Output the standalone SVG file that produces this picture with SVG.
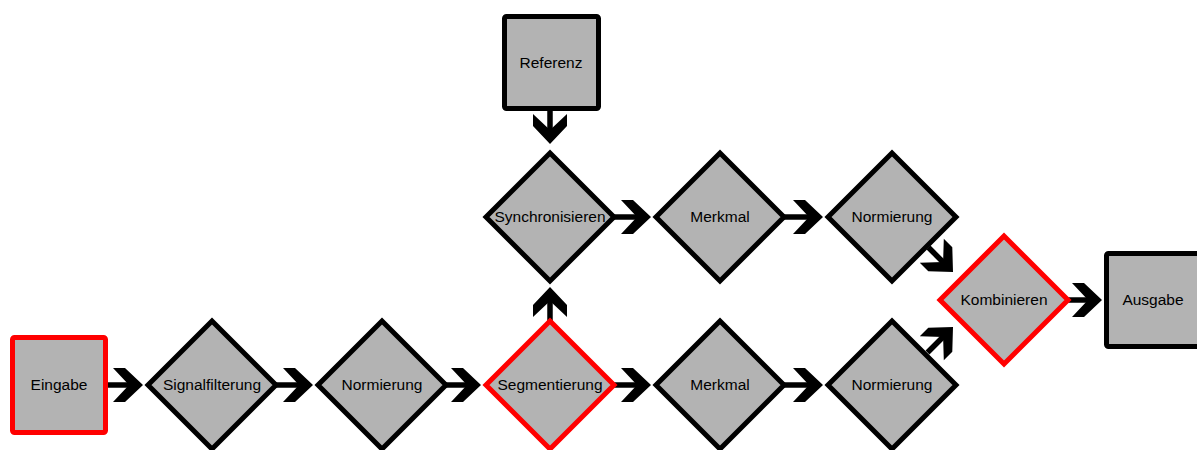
<svg xmlns="http://www.w3.org/2000/svg" xmlns:xlink="http://www.w3.org/1999/xlink" width="1197" height="450" viewBox="0 0 1197 450">
  <style>
    .box { fill: #b3b3b3; stroke: #000; stroke-width: 5; stroke-linejoin: round; }
    .dia { fill: #b3b3b3; stroke: #000; stroke-width: 5; stroke-linejoin: miter; }
    .hot { stroke: #ff0000; }
    .lbl { font-family: "Liberation Sans", Arial, sans-serif; font-size: 15.5px; fill: #000; text-anchor: middle; }
    .wire { stroke: #000; stroke-width: 5.5; fill: none; }
    .head { fill: #000; }
  </style>
  <defs>
    <!-- chevron arrowhead, tip at origin, pointing +x -->
    <path id="chev" d="M0,0 L-18,-17 L-30,-17 L-14,0 L-30,17 L-18,17 Z"/>
  </defs>

  <rect width="1197" height="450" fill="#fff"/>

  <!-- connectors -->
  <g id="connectors">
    <!-- lower chain -->
    <line class="wire" x1="106" y1="385" x2="131" y2="385"/>
    <use xlink:href="#chev" class="head" transform="translate(143,385)"/>
    <line class="wire" x1="276" y1="385" x2="301" y2="385"/>
    <use xlink:href="#chev" class="head" transform="translate(313,385)"/>
    <line class="wire" x1="446" y1="385" x2="469" y2="385"/>
    <use xlink:href="#chev" class="head" transform="translate(481,385)"/>
    <line class="wire" x1="614" y1="385" x2="639" y2="385"/>
    <use xlink:href="#chev" class="head" transform="translate(651,385)"/>
    <line class="wire" x1="784" y1="385" x2="811" y2="385"/>
    <use xlink:href="#chev" class="head" transform="translate(823,385)"/>

    <!-- upper chain -->
    <line class="wire" x1="614" y1="217" x2="639" y2="217"/>
    <use xlink:href="#chev" class="head" transform="translate(651,217)"/>
    <line class="wire" x1="784" y1="217" x2="811" y2="217"/>
    <use xlink:href="#chev" class="head" transform="translate(823,217)"/>

    <!-- Segmentierung up to Synchronisieren -->
    <line class="wire" x1="550" y1="321" x2="550" y2="299"/>
    <use xlink:href="#chev" class="head" transform="translate(550,287) rotate(-90)"/>

    <!-- Referenz down to Synchronisieren -->
    <line class="wire" x1="550" y1="108" x2="550" y2="132"/>
    <use xlink:href="#chev" class="head" transform="translate(550,144) rotate(90)"/>

    <!-- both branches into Kombinieren -->
    <line class="wire" x1="928.5" y1="247.5" x2="944.5" y2="263.5"/>
    <use xlink:href="#chev" class="head" transform="translate(953,272) rotate(45)"/>
    <line class="wire" x1="927.5" y1="352.5" x2="944.5" y2="335.5"/>
    <use xlink:href="#chev" class="head" transform="translate(953,327) rotate(-45)"/>

    <!-- Kombinieren to Ausgabe -->
    <line class="wire" x1="1068" y1="300" x2="1090" y2="300"/>
    <use xlink:href="#chev" class="head" transform="translate(1102,300)"/>
  </g>

  <!-- nodes -->
  <g id="eingabe">
    <rect class="box hot" x="12.5" y="337.5" width="93" height="95" rx="2"/>
    <text class="lbl" x="59" y="390">Eingabe</text>
  </g>

  <g id="referenz">
    <rect class="box" x="504.5" y="16.5" width="94" height="92" rx="2"/>
    <text class="lbl" x="551" y="68">Referenz</text>
  </g>

  <g id="ausgabe">
    <rect class="box" x="1106.5" y="253.5" width="94" height="93" rx="2"/>
    <text class="lbl" x="1153" y="305">Ausgabe</text>
  </g>

  <g id="signalfilterung">
    <path class="dia" d="M212,321 L276,385 L212,449 L148,385 Z"/>
    <text class="lbl" x="212" y="390">Signalfilterung</text>
  </g>

  <g id="normierung-1">
    <path class="dia" d="M382,321 L446,385 L382,449 L318,385 Z"/>
    <text class="lbl" x="382" y="390">Normierung</text>
  </g>

  <g id="segmentierung">
    <path class="dia hot" d="M550,321 L614,385 L550,449 L486,385 Z"/>
    <text class="lbl" x="550" y="390">Segmentierung</text>
  </g>

  <g id="merkmal-1">
    <path class="dia" d="M720,321 L784,385 L720,449 L656,385 Z"/>
    <text class="lbl" x="720" y="390">Merkmal</text>
  </g>

  <g id="normierung-2">
    <path class="dia" d="M892,321 L956,385 L892,449 L828,385 Z"/>
    <text class="lbl" x="892" y="390">Normierung</text>
  </g>

  <g id="synchronisieren">
    <path class="dia" d="M550,153 L614,217 L550,281 L486,217 Z"/>
    <text class="lbl" x="550" y="222">Synchronisieren</text>
  </g>

  <g id="merkmal-2">
    <path class="dia" d="M720,153 L784,217 L720,281 L656,217 Z"/>
    <text class="lbl" x="720" y="222">Merkmal</text>
  </g>

  <g id="normierung-3">
    <path class="dia" d="M892,153 L956,217 L892,281 L828,217 Z"/>
    <text class="lbl" x="892" y="222">Normierung</text>
  </g>

  <g id="kombinieren">
    <path class="dia hot" d="M1004,236 L1068,300 L1004,364 L940,300 Z"/>
    <text class="lbl" x="1004" y="305">Kombinieren</text>
  </g>
</svg>
